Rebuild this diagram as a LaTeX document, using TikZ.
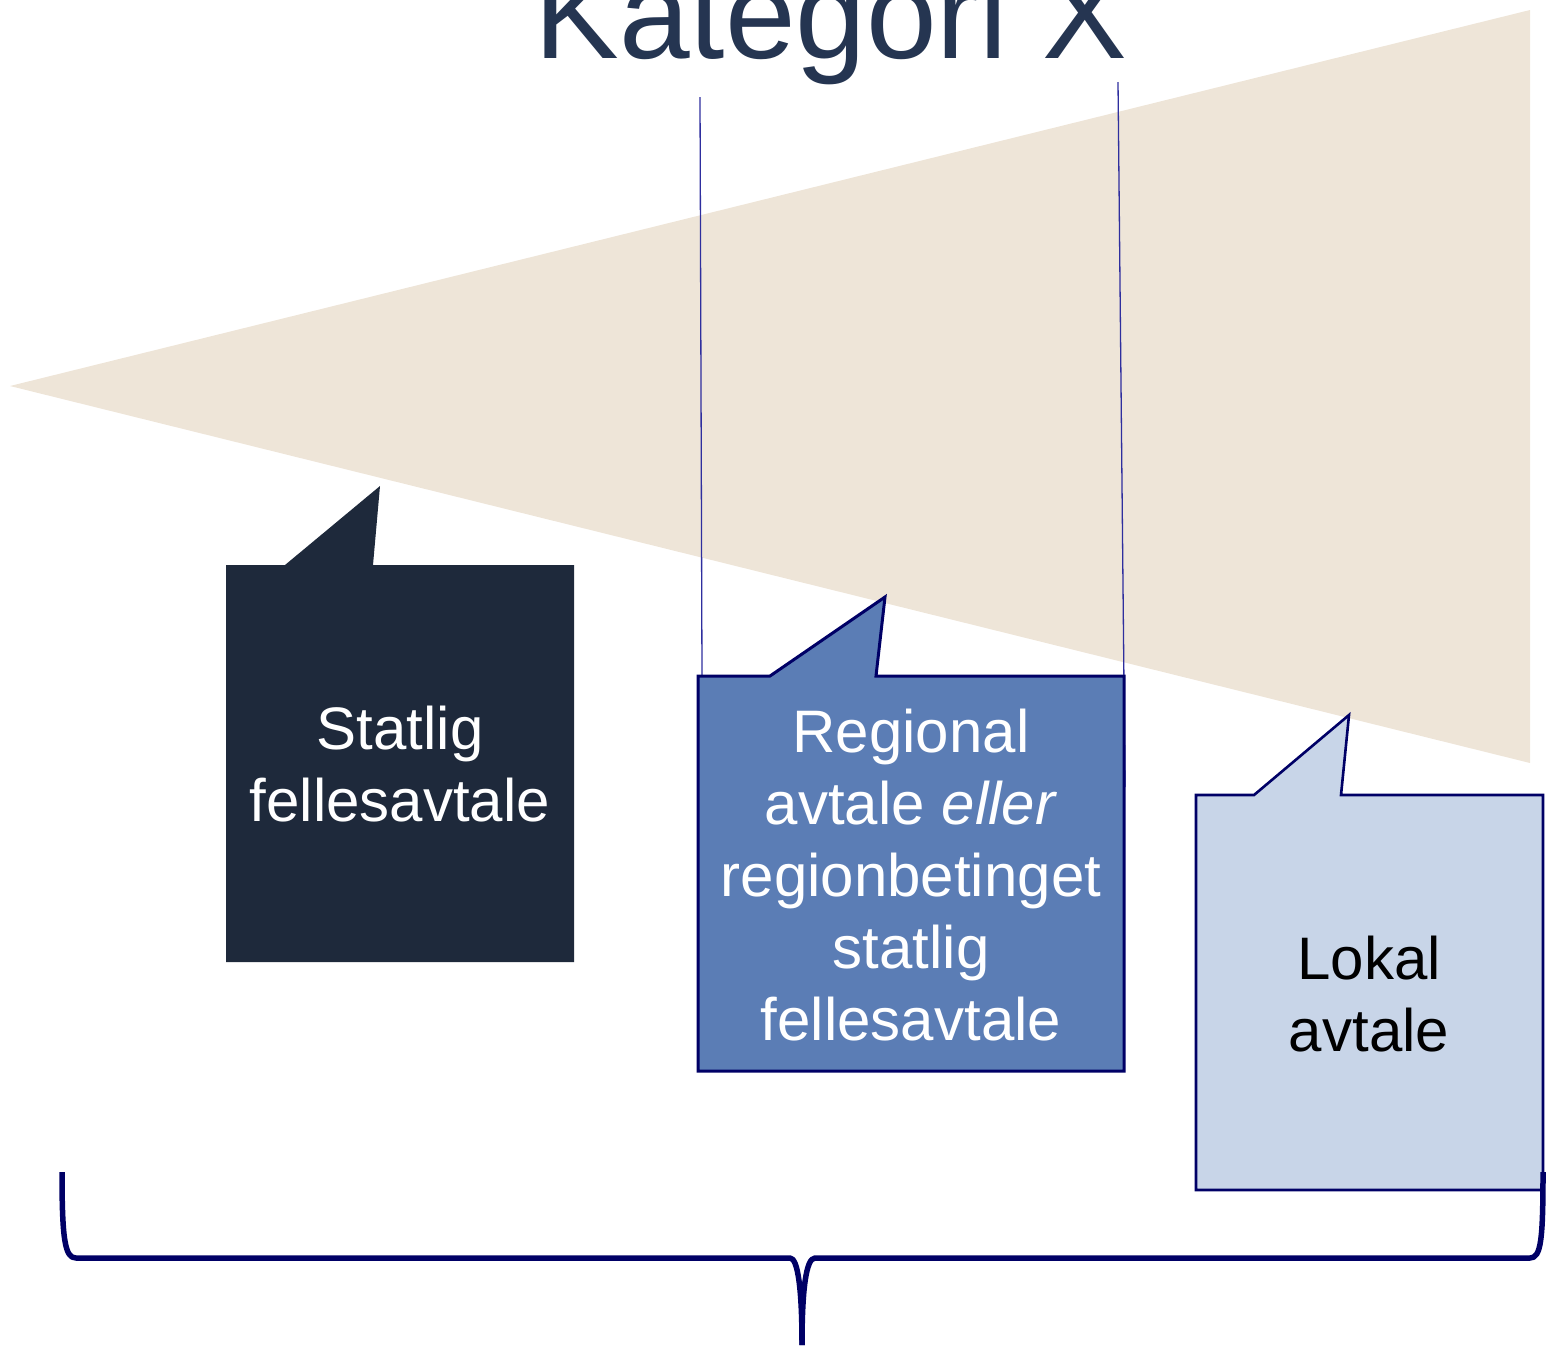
\documentclass[tikz,border=0pt]{standalone}
\usepackage{fontspec}
\setmainfont{Liberation Sans}
\definecolor{titlec}{HTML}{253551}
\definecolor{beige}{HTML}{EEE5D8}
\definecolor{darkbox}{HTML}{1E293B}
\definecolor{midbox}{HTML}{5B7DB5}
\definecolor{lightbox}{HTML}{C8D5E8}
\definecolor{navy}{HTML}{000066}
\definecolor{guide}{HTML}{2E2E9E}
\tikzset{
  boxtext/.style={align=center, font=\fontsize{60}{72}\selectfont, inner sep=0pt},
  guideline/.style={draw=guide, line width=1.3pt},
  bracestyle/.style={draw=navy, line width=5.5pt, line join=round}
}
\begin{document}
\begin{tikzpicture}[x=1pt, y=-1pt]
\useasboundingbox (0,0) rectangle (1560,1345);
% background triangle
\fill[beige] (10,386) -- (1530,10) -- (1530,763) -- cycle;
% title
\node[anchor=base, text=titlec, font=\fontsize{127}{140}\selectfont, inner sep=0pt] (title) at (831,58) {Kategori X};
% guide lines
\coordinate (g1a) at (700,97);
\coordinate (g1b) at (702,676);
\coordinate (g2a) at (1118,82);
\coordinate (g2b) at (1125,787);
\draw[guideline] (g1a) -- (g1b);
\draw[guideline] (g2a) -- (g2b);
% box 1
\fill[darkbox] (226,565) -- (285,565) -- (380,486) -- (373,565) -- (574,565) -- (574,962) -- (226,962) -- cycle;
\node[boxtext, text=white] (b1) at (400,764) {Statlig\\fellesavtale};
% box 2
\filldraw[fill=midbox, draw=navy, line width=3pt] (698,676) -- (770,676) -- (885,597) -- (876,676) -- (1124,676) -- (1124,1071) -- (698,1071) -- cycle;
\node[boxtext, text=white] (b2) at (911,875) {Regional\\avtale \textit{eller}\\regionbetinget\\statlig\\fellesavtale};
% box 3
\filldraw[fill=lightbox, draw=navy, line width=2.6pt] (1196,795) -- (1254,795) -- (1349,715) -- (1341,795) -- (1543,795) -- (1543,1190) -- (1196,1190) -- cycle;
\node[boxtext, text=black] (b3) at (1369,994) {Lokal\\avtale};
% brace
\coordinate (brL) at (62,1172);
\coordinate (brR) at (1543,1172);
\coordinate (brTip) at (802,1345);
\draw[bracestyle] (brL) .. controls (62,1240) and (65,1258) .. (76,1258) -- (790,1258)
  .. controls (798,1258) and (802,1290) .. (brTip);
\draw[bracestyle] (brTip) .. controls (802,1290) and (806,1258) .. (815,1258) -- (1530,1258)
  .. controls (1541,1258) and (1543,1240) .. (brR);
\end{tikzpicture}
\end{document}
